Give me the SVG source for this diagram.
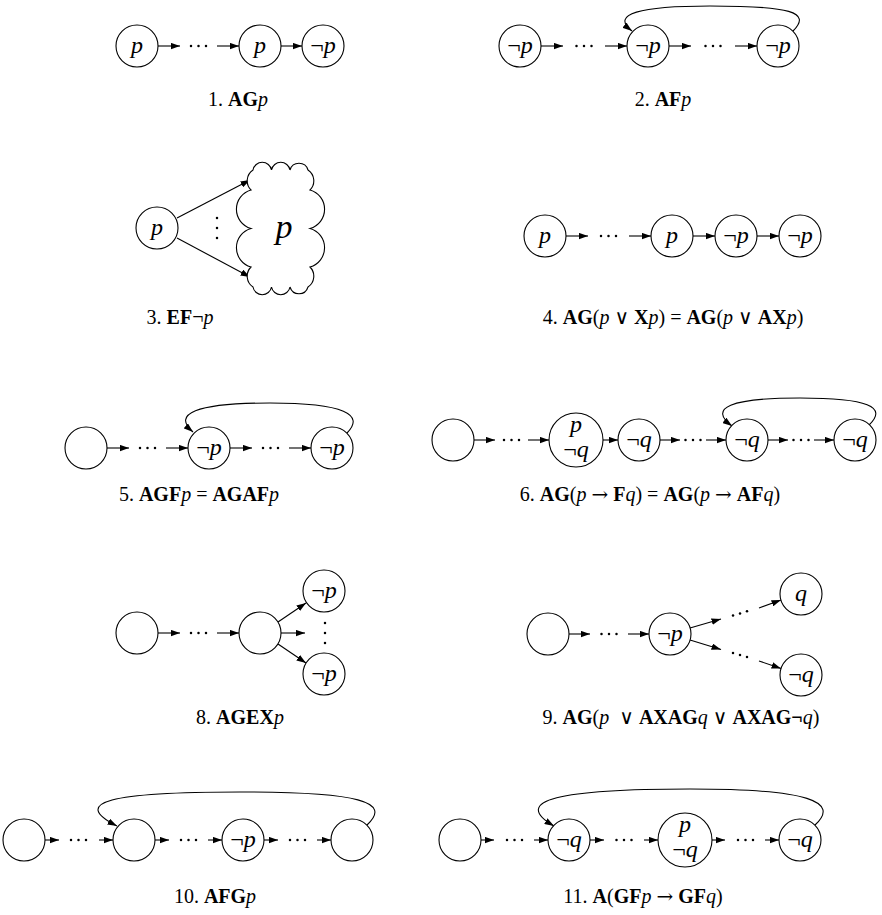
<svg xmlns="http://www.w3.org/2000/svg" width="882" height="915" viewBox="0 0 882 915">
<defs>
<marker id="ah" markerUnits="userSpaceOnUse" markerWidth="10" markerHeight="7" refX="9.5" refY="3.5" orient="auto">
<path d="M0,0.2 L9.5,3.5 L0,6.8 z" fill="#000"/>
</marker>
</defs>
<style>
.n{fill:#fff;stroke:#000;stroke-width:1.1}
.e{fill:none;stroke:#000;stroke-width:1.1;marker-end:url(#ah)}
.dt{fill:#000}
text{font-family:"Liberation Serif","DejaVu Serif",serif;fill:#000}
.lbl{font-size:24px;text-anchor:middle}
.cap{font-size:20px;text-anchor:middle}
.i{font-style:italic}
.b{font-weight:bold}
.op{font-family:"DejaVu Serif",serif;font-weight:normal;font-size:20px}
</style>
<rect width="882" height="915" fill="#fff"/>

<!-- connectors -->
<g id="connectors">
<!-- panel 1 -->
<line class="e" x1="158" y1="46" x2="180" y2="46"/>
<line class="e" x1="217" y1="46" x2="239" y2="46"/>
<line class="e" x1="281" y1="46" x2="302" y2="46"/>
<!-- panel 2 -->
<line class="e" x1="541" y1="46" x2="563" y2="46"/>
<line class="e" x1="605" y1="46" x2="627" y2="46"/>
<line class="e" x1="669" y1="46" x2="691" y2="46"/>
<line class="e" x1="735" y1="46" x2="757" y2="46"/>
<path class="e" d="M793 31 C812 12 790 6 710 6 C640 6 610 14 632 31"/>
<!-- panel 3 -->
<line class="e" x1="177" y1="218" x2="250" y2="180"/>
<line class="e" x1="177" y1="238" x2="250" y2="277"/>
<!-- panel 4 -->
<line class="e" x1="566" y1="236" x2="588" y2="236"/>
<line class="e" x1="629" y1="236" x2="651" y2="236"/>
<line class="e" x1="693" y1="236" x2="715" y2="236"/>
<line class="e" x1="757" y1="236" x2="779" y2="236"/>
<!-- panel 5 -->
<line class="e" x1="107" y1="448" x2="129" y2="448"/>
<line class="e" x1="166" y1="448" x2="188" y2="448"/>
<line class="e" x1="230" y1="448" x2="252" y2="448"/>
<line class="e" x1="289" y1="448" x2="311" y2="448"/>
<path class="e" d="M347 433 C365 415 345 403 270 403 C195 403 172 414 193 432"/>
<!-- panel 6 -->
<line class="e" x1="474" y1="440" x2="495" y2="440"/>
<line class="e" x1="528" y1="440" x2="549" y2="440"/>
<line class="e" x1="603" y1="440" x2="618" y2="440"/>
<line class="e" x1="660" y1="440" x2="680" y2="440"/>
<line class="e" x1="706" y1="440" x2="726" y2="440"/>
<line class="e" x1="768" y1="440" x2="788" y2="440"/>
<line class="e" x1="814" y1="440" x2="834" y2="440"/>
<path class="e" d="M869 425 C888 407 868 398 800 398 C730 398 708 408 732 426"/>
<!-- panel 8 -->
<line class="e" x1="158" y1="633" x2="180" y2="633"/>
<line class="e" x1="217" y1="633" x2="239" y2="633"/>
<line class="e" x1="278" y1="622" x2="306" y2="603"/>
<line class="e" x1="281" y1="633" x2="305" y2="633"/>
<line class="e" x1="278" y1="644" x2="306" y2="663"/>
<!-- panel 9 -->
<line class="e" x1="569" y1="634" x2="590" y2="634"/>
<line class="e" x1="628" y1="634" x2="649" y2="634"/>
<line class="e" x1="690" y1="628" x2="721" y2="619"/>
<line class="e" x1="759" y1="608" x2="781" y2="600"/>
<line class="e" x1="690" y1="640" x2="721" y2="649.5"/>
<line class="e" x1="759" y1="661" x2="781" y2="668.5"/>
<!-- panel 10 -->
<line class="e" x1="45" y1="840" x2="59" y2="840"/>
<line class="e" x1="99" y1="840" x2="113" y2="840"/>
<line class="e" x1="155" y1="840" x2="169" y2="840"/>
<line class="e" x1="208" y1="840" x2="222" y2="840"/>
<line class="e" x1="264" y1="840" x2="278" y2="840"/>
<line class="e" x1="317" y1="840" x2="331" y2="840"/>
<path class="e" d="M367 825 C392 802 360 792 240 792 C110 792 70 802 117 826"/>
<!-- panel 11 -->
<line class="e" x1="481" y1="840" x2="494" y2="840"/>
<line class="e" x1="534" y1="840" x2="548" y2="840"/>
<line class="e" x1="590" y1="840" x2="604" y2="840"/>
<line class="e" x1="644" y1="840" x2="658" y2="840"/>
<line class="e" x1="712" y1="840" x2="725" y2="840"/>
<line class="e" x1="765" y1="840" x2="779" y2="840"/>
<path class="e" d="M815 825 C840 802 810 789 690 789 C560 789 510 800 554 826"/>
</g>

<!-- ellipsis dots -->
<g id="dots" class="dt">
<circle cx="191" cy="46" r="1.25"/><circle cx="198.5" cy="46" r="1.25"/><circle cx="206" cy="46" r="1.25"/>
<circle cx="576.5" cy="46" r="1.25"/><circle cx="584" cy="46" r="1.25"/><circle cx="591.5" cy="46" r="1.25"/>
<circle cx="705.5" cy="46" r="1.25"/><circle cx="713" cy="46" r="1.25"/><circle cx="720.5" cy="46" r="1.25"/>
<circle cx="217" cy="218" r="1.25"/><circle cx="217" cy="228" r="1.25"/><circle cx="217" cy="238" r="1.25"/>
<circle cx="601" cy="236" r="1.25"/><circle cx="608.5" cy="236" r="1.25"/><circle cx="616" cy="236" r="1.25"/>
<circle cx="140" cy="448" r="1.25"/><circle cx="147.5" cy="448" r="1.25"/><circle cx="155" cy="448" r="1.25"/>
<circle cx="263" cy="448" r="1.25"/><circle cx="270.5" cy="448" r="1.25"/><circle cx="278" cy="448" r="1.25"/>
<circle cx="504" cy="440" r="1.25"/><circle cx="511.5" cy="440" r="1.25"/><circle cx="519" cy="440" r="1.25"/>
<circle cx="685.5" cy="440" r="1.25"/><circle cx="693" cy="440" r="1.25"/><circle cx="700.5" cy="440" r="1.25"/>
<circle cx="793.5" cy="440" r="1.25"/><circle cx="801" cy="440" r="1.25"/><circle cx="808.5" cy="440" r="1.25"/>
<circle cx="191" cy="633" r="1.25"/><circle cx="198.5" cy="633" r="1.25"/><circle cx="206" cy="633" r="1.25"/>
<circle cx="325" cy="623" r="1.25"/><circle cx="325" cy="633" r="1.25"/><circle cx="325" cy="643" r="1.25"/>
<circle cx="601.5" cy="634" r="1.25"/><circle cx="609" cy="634" r="1.25"/><circle cx="616.5" cy="634" r="1.25"/>
<circle cx="733" cy="615.5" r="1.25"/><circle cx="740" cy="613.4" r="1.25"/><circle cx="747" cy="611.3" r="1.25"/>
<circle cx="733" cy="653" r="1.25"/><circle cx="740" cy="655" r="1.25"/><circle cx="747" cy="657" r="1.25"/>
<circle cx="71" cy="840" r="1.25"/><circle cx="78.5" cy="840" r="1.25"/><circle cx="86" cy="840" r="1.25"/>
<circle cx="181" cy="840" r="1.25"/><circle cx="188.5" cy="840" r="1.25"/><circle cx="196" cy="840" r="1.25"/>
<circle cx="290" cy="840" r="1.25"/><circle cx="297.5" cy="840" r="1.25"/><circle cx="305" cy="840" r="1.25"/>
<circle cx="507" cy="840" r="1.25"/><circle cx="514.5" cy="840" r="1.25"/><circle cx="522" cy="840" r="1.25"/>
<circle cx="616.5" cy="840" r="1.25"/><circle cx="624" cy="840" r="1.25"/><circle cx="631.5" cy="840" r="1.25"/>
<circle cx="738" cy="840" r="1.25"/><circle cx="745.5" cy="840" r="1.25"/><circle cx="753" cy="840" r="1.25"/>
</g>

<!-- panel 1 nodes -->
<g id="n1a"><circle class="n" cx="137" cy="46" r="21"/><text class="lbl" x="137" y="53"><tspan class="i">p</tspan></text></g>
<g id="n1b"><circle class="n" cx="260" cy="46" r="21"/><text class="lbl" x="260" y="53"><tspan class="i">p</tspan></text></g>
<g id="n1c"><circle class="n" cx="323" cy="46" r="21"/><text class="lbl" x="323" y="53">¬<tspan class="i">p</tspan></text></g>
<!-- panel 2 nodes -->
<g id="n2a"><circle class="n" cx="520" cy="46" r="21"/><text class="lbl" x="520" y="53">¬<tspan class="i">p</tspan></text></g>
<g id="n2b"><circle class="n" cx="648" cy="46" r="21"/><text class="lbl" x="648" y="53">¬<tspan class="i">p</tspan></text></g>
<g id="n2c"><circle class="n" cx="778" cy="46" r="21"/><text class="lbl" x="778" y="53">¬<tspan class="i">p</tspan></text></g>
<!-- panel 3 nodes -->
<g id="n3a"><circle class="n" cx="157" cy="228" r="21"/><text class="lbl" x="157" y="235"><tspan class="i">p</tspan></text></g>
<g id="n3cloud">
<path class="n" d="M253 170 A9.4 9.4 0 0 1 271.5 170 A9.4 9.4 0 0 1 290 170 A9.4 9.4 0 0 1 308 170 A13 13 0 0 1 310 190 A20 20 0 0 1 310 228.5 A20 20 0 0 1 310 267 A13 13 0 0 1 308 287 A9.4 9.4 0 0 1 290 287 A9.4 9.4 0 0 1 271.5 287 A9.4 9.4 0 0 1 253 287 A13 13 0 0 1 251 267 A20 20 0 0 1 251 228.5 A20 20 0 0 1 251 190 A13 13 0 0 1 253 170 Z"/>
<text x="284" y="238" style="font-size:34px;text-anchor:middle"><tspan class="i">p</tspan></text>
</g>
<!-- panel 4 nodes -->
<g id="n4a"><circle class="n" cx="545" cy="236" r="21"/><text class="lbl" x="545" y="243"><tspan class="i">p</tspan></text></g>
<g id="n4b"><circle class="n" cx="672" cy="236" r="21"/><text class="lbl" x="672" y="243"><tspan class="i">p</tspan></text></g>
<g id="n4c"><circle class="n" cx="736" cy="236" r="21"/><text class="lbl" x="736" y="243">¬<tspan class="i">p</tspan></text></g>
<g id="n4d"><circle class="n" cx="800" cy="236" r="21"/><text class="lbl" x="800" y="243">¬<tspan class="i">p</tspan></text></g>
<!-- panel 5 nodes -->
<g id="n5a"><circle class="n" cx="86" cy="448" r="21"/></g>
<g id="n5b"><circle class="n" cx="209" cy="448" r="21"/><text class="lbl" x="209" y="455">¬<tspan class="i">p</tspan></text></g>
<g id="n5c"><circle class="n" cx="332" cy="448" r="21"/><text class="lbl" x="332" y="455">¬<tspan class="i">p</tspan></text></g>
<!-- panel 6 nodes -->
<g id="n6a"><circle class="n" cx="453" cy="440" r="21"/></g>
<g id="n6b"><circle class="n" cx="576" cy="440" r="27"/><text class="lbl" x="576" y="432"><tspan class="i">p</tspan></text><text class="lbl" x="576" y="457">¬<tspan class="i">q</tspan></text></g>
<g id="n6c"><circle class="n" cx="639" cy="440" r="21"/><text class="lbl" x="639" y="447">¬<tspan class="i">q</tspan></text></g>
<g id="n6d"><circle class="n" cx="747" cy="440" r="21"/><text class="lbl" x="747" y="447">¬<tspan class="i">q</tspan></text></g>
<g id="n6e"><circle class="n" cx="855" cy="440" r="21"/><text class="lbl" x="855" y="447">¬<tspan class="i">q</tspan></text></g>
<!-- panel 8 nodes -->
<g id="n8a"><circle class="n" cx="137" cy="633" r="21"/></g>
<g id="n8b"><circle class="n" cx="260" cy="633" r="21"/></g>
<g id="n8c"><circle class="n" cx="324" cy="591" r="21"/><text class="lbl" x="324" y="598">¬<tspan class="i">p</tspan></text></g>
<g id="n8d"><circle class="n" cx="324" cy="674" r="21"/><text class="lbl" x="324" y="681">¬<tspan class="i">p</tspan></text></g>
<!-- panel 9 nodes -->
<g id="n9a"><circle class="n" cx="548" cy="634" r="21"/></g>
<g id="n9b"><circle class="n" cx="670" cy="634" r="21"/><text class="lbl" x="670" y="641">¬<tspan class="i">p</tspan></text></g>
<g id="n9c"><circle class="n" cx="801" cy="594" r="21"/><text class="lbl" x="801" y="601"><tspan class="i">q</tspan></text></g>
<g id="n9d"><circle class="n" cx="801" cy="675" r="21"/><text class="lbl" x="801" y="682">¬<tspan class="i">q</tspan></text></g>
<!-- panel 10 nodes -->
<g id="n10a"><circle class="n" cx="24" cy="840" r="21"/></g>
<g id="n10b"><circle class="n" cx="134" cy="840" r="21"/></g>
<g id="n10c"><circle class="n" cx="243" cy="840" r="21"/><text class="lbl" x="243" y="847">¬<tspan class="i">p</tspan></text></g>
<g id="n10d"><circle class="n" cx="352" cy="840" r="21"/></g>
<!-- panel 11 nodes -->
<g id="n11a"><circle class="n" cx="460" cy="840" r="21"/></g>
<g id="n11b"><circle class="n" cx="569" cy="840" r="21"/><text class="lbl" x="569" y="847">¬<tspan class="i">q</tspan></text></g>
<g id="n11c"><circle class="n" cx="685" cy="840" r="27"/><text class="lbl" x="685" y="832"><tspan class="i">p</tspan></text><text class="lbl" x="685" y="857">¬<tspan class="i">q</tspan></text></g>
<g id="n11d"><circle class="n" cx="800" cy="840" r="21"/><text class="lbl" x="800" y="847">¬<tspan class="i">q</tspan></text></g>

<!-- captions -->
<g id="captions">
<text class="cap" x="238" y="106">1. <tspan class="b">AG</tspan><tspan class="i">p</tspan></text>
<text class="cap" x="663" y="106">2. <tspan class="b">AF</tspan><tspan class="i">p</tspan></text>
<text class="cap" x="180" y="324">3. <tspan class="b">EF</tspan>¬<tspan class="i">p</tspan></text>
<text class="cap" x="673" y="324">4. <tspan class="b">AG</tspan>(<tspan class="i">p</tspan> <tspan class="op">∨</tspan> <tspan class="b">X</tspan><tspan class="i">p</tspan>) = <tspan class="b">AG</tspan>(<tspan class="i">p</tspan> <tspan class="op">∨</tspan> <tspan class="b">AX</tspan><tspan class="i">p</tspan>)</text>
<text class="cap" x="199" y="501">5. <tspan class="b">AGF</tspan><tspan class="i">p</tspan> = <tspan class="b">AGAF</tspan><tspan class="i">p</tspan></text>
<text class="cap" x="650" y="501">6. <tspan class="b">AG</tspan>(<tspan class="i">p</tspan> <tspan class="op">→</tspan> <tspan class="b">F</tspan><tspan class="i">q</tspan>) = <tspan class="b">AG</tspan>(<tspan class="i">p</tspan> <tspan class="op">→</tspan> <tspan class="b">AF</tspan><tspan class="i">q</tspan>)</text>
<text class="cap" x="240" y="724">8. <tspan class="b">AGEX</tspan><tspan class="i">p</tspan></text>
<text class="cap" x="681" y="724">9. <tspan class="b">AG</tspan>(<tspan class="i">p</tspan>&#160; <tspan class="op">∨</tspan> <tspan class="b">AXAG</tspan><tspan class="i">q</tspan> <tspan class="op">∨</tspan> <tspan class="b">AXAG¬</tspan><tspan class="i">q</tspan>)</text>
<text class="cap" x="215" y="903">10. <tspan class="b">AFG</tspan><tspan class="i">p</tspan></text>
<text class="cap" x="643" y="903">11. <tspan class="b">A</tspan>(<tspan class="b">GF</tspan><tspan class="i">p</tspan> <tspan class="op">→</tspan> <tspan class="b">GF</tspan><tspan class="i">q</tspan>)</text>
</g>
</svg>
